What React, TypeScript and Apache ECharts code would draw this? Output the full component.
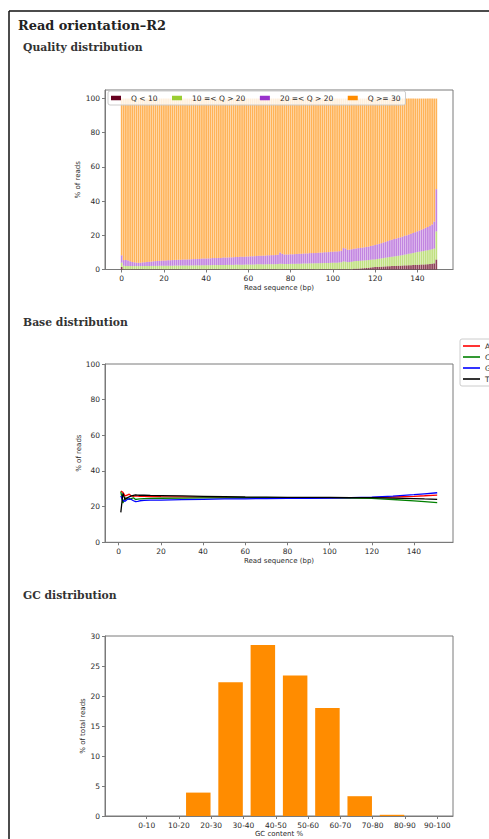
import React, { useEffect, useRef } from "react";
import * as echarts from "echarts";

// ---------- Quality distribution (stacked % per read position) ----------
const qualityNames = ["Q < 10", "10 =< Q > 20", "20 =< Q > 20", "Q >= 30"];
const readPos = Array.from({ length: 150 }, (_, i) => i);
const qLow = [
  1.5, 0.2, 0.2, 0.2, 0.2, 0.2, 0.2, 0.2, 0.2, 0.2,
  0.2, 0.2, 0.2, 0.2, 0.2, 0.2, 0.2, 0.2, 0.2, 0.2,
  0.2, 0.2, 0.2, 0.2, 0.2, 0.2, 0.2, 0.2, 0.2, 0.2,
  0.2, 0.2, 0.2, 0.2, 0.2, 0.2, 0.2, 0.2, 0.2, 0.2,
  0.2, 0.2, 0.2, 0.2, 0.2, 0.2, 0.2, 0.2, 0.2, 0.2,
  0.2, 0.2, 0.2, 0.2, 0.2, 0.2, 0.2, 0.2, 0.2, 0.2,
  0.2, 0.2, 0.2, 0.2, 0.2, 0.2, 0.2, 0.2, 0.2, 0.2,
  0.2, 0.2, 0.2, 0.2, 0.2, 0.2, 0.2, 0.2, 0.2, 0.2,
  0.2, 0.2, 0.2, 0.2, 0.2, 0.2, 0.2, 0.2, 0.2, 0.2,
  0.2, 0.2, 0.2, 0.2, 0.2, 0.2, 0.2, 0.2, 0.2, 0.2,
  0.2, 0.2, 0.2, 0.2, 0.2, 0.2, 0.2, 0.2, 0.2, 0.2,
  0.4, 0.5, 0.5, 0.6, 0.7, 0.8, 0.9, 1.0, 1.1, 1.3,
  1.4, 1.5, 1.5, 1.6, 1.7, 1.8, 1.9, 1.9, 2.0, 2.1,
  2.1, 2.2, 2.2, 2.3, 2.4, 2.4, 2.5, 2.5, 2.6, 2.7,
  2.7, 2.8, 2.9, 2.9, 3.0, 3.1, 3.2, 3.4, 3.6, 5.8,
];
const qMid = [
  2.5, 2.0, 1.9, 1.8, 1.8, 1.8, 1.8, 1.8, 1.8, 1.8,
  1.8, 1.8, 1.9, 1.9, 1.9, 1.9, 1.9, 1.9, 2.0, 2.0,
  2.0, 2.0, 2.0, 2.0, 2.0, 2.1, 2.1, 2.1, 2.1, 2.1,
  2.1, 2.2, 2.1, 2.2, 2.2, 2.2, 2.2, 2.2, 2.3, 2.3,
  2.3, 2.3, 2.3, 2.4, 2.4, 2.4, 2.4, 2.4, 2.5, 2.5,
  2.5, 2.5, 2.5, 2.5, 2.6, 2.6, 2.6, 2.6, 2.6, 2.7,
  2.7, 2.7, 2.7, 2.7, 2.8, 2.8, 2.8, 2.8, 2.8, 2.9,
  2.9, 2.9, 2.9, 2.9, 3.0, 3.2, 3.1, 3.0, 3.0, 3.0,
  3.1, 3.1, 3.1, 3.2, 3.2, 3.2, 3.3, 3.3, 3.3, 3.4,
  3.4, 3.4, 3.4, 3.5, 3.5, 3.5, 3.6, 3.6, 3.6, 3.7,
  3.7, 3.7, 3.8, 3.9, 4.0, 4.5, 4.4, 4.1, 4.2, 4.3,
  4.4, 4.4, 4.5, 4.5, 4.5, 4.5, 4.5, 4.5, 4.6, 4.5,
  4.5, 4.6, 4.8, 4.9, 5.0, 5.1, 5.2, 5.4, 5.4, 5.5,
  5.7, 5.8, 6.0, 6.1, 6.3, 6.5, 6.7, 6.9, 7.1, 7.2,
  7.5, 7.6, 7.7, 7.9, 8.1, 8.2, 8.4, 8.4, 8.6, 16.5,
];
const qGood = [
  4.3, 3.3, 3.4, 3.3, 2.8, 2.4, 2.2, 2.0, 1.9, 2.0,
  2.2, 2.3, 2.3, 2.4, 2.5, 2.7, 2.8, 2.9, 2.9, 3.0,
  3.1, 3.1, 3.2, 3.2, 3.3, 3.3, 3.3, 3.4, 3.4, 3.5,
  3.5, 3.5, 3.6, 3.6, 3.7, 3.7, 3.8, 3.8, 3.9, 3.9,
  3.9, 4.0, 4.0, 4.1, 4.1, 4.1, 4.2, 4.2, 4.3, 4.3,
  4.3, 4.4, 4.4, 4.5, 4.5, 4.5, 4.6, 4.6, 4.6, 4.7,
  4.7, 4.8, 4.8, 4.9, 4.9, 5.0, 5.0, 5.1, 5.1, 5.2,
  5.2, 5.3, 5.3, 5.4, 5.5, 6.6, 5.9, 5.6, 5.6, 5.6,
  5.6, 5.6, 5.7, 5.7, 5.8, 5.8, 5.8, 5.9, 5.9, 6.0,
  6.0, 6.0, 6.1, 6.1, 6.2, 6.2, 6.3, 6.3, 6.4, 6.5,
  6.5, 6.6, 6.6, 6.6, 6.8, 7.8, 7.7, 7.2, 7.2, 7.3,
  7.3, 7.4, 7.5, 7.5, 7.6, 7.7, 7.8, 7.9, 8.0, 8.3,
  8.4, 8.6, 8.7, 8.9, 9.1, 9.3, 9.5, 9.8, 10.0, 10.2,
  10.3, 10.5, 10.6, 10.8, 11.0, 11.1, 11.3, 11.5, 11.7, 11.9,
  12.1, 12.4, 12.7, 13.0, 13.3, 13.6, 14.0, 14.5, 15.8, 24.7,
];
const qBest = [
  91.7, 94.5, 94.5, 94.7, 95.2, 95.6, 95.8, 96.0, 96.1, 96.0,
  95.8, 95.7, 95.6, 95.5, 95.4, 95.2, 95.1, 95.0, 94.9, 94.8,
  94.7, 94.7, 94.6, 94.6, 94.5, 94.4, 94.4, 94.3, 94.3, 94.2,
  94.2, 94.1, 94.1, 94.0, 93.9, 93.9, 93.8, 93.8, 93.6, 93.6,
  93.6, 93.5, 93.5, 93.3, 93.3, 93.3, 93.2, 93.2, 93.0, 93.0,
  93.0, 92.9, 92.9, 92.8, 92.7, 92.7, 92.6, 92.6, 92.6, 92.4,
  92.4, 92.3, 92.3, 92.2, 92.1, 92.0, 92.0, 91.9, 91.9, 91.7,
  91.7, 91.6, 91.6, 91.5, 91.3, 90.0, 90.8, 91.2, 91.2, 91.2,
  91.1, 91.1, 91.0, 90.9, 90.8, 90.8, 90.7, 90.6, 90.6, 90.4,
  90.4, 90.4, 90.3, 90.2, 90.1, 90.1, 89.9, 89.9, 89.8, 89.6,
  89.6, 89.5, 89.4, 89.3, 89.0, 87.5, 87.7, 88.5, 88.4, 88.2,
  87.9, 87.7, 87.5, 87.4, 87.2, 87.0, 86.8, 86.6, 86.3, 85.9,
  85.7, 85.3, 85.0, 84.6, 84.2, 83.8, 83.4, 82.9, 82.6, 82.2,
  81.9, 81.5, 81.2, 80.8, 80.3, 80.0, 79.5, 79.1, 78.6, 78.2,
  77.7, 77.2, 76.7, 76.2, 75.6, 75.1, 74.4, 73.7, 72.0, 53.0,
];
const qualityTicks = [0, 20, 40, 60, 80, 100, 120, 140];
const percentTicks = [0, 20, 40, 60, 80, 100];

// ---------- Base distribution ----------
const baseNames = ["A", "C", "G", "T"];
const basePos = [1, 2, 3, 4, 5, 6, 7, 8, 9, 10, 12, 15, 20, 30, 40, 50, 60, 70, 80, 90, 100, 110, 120, 130, 140, 145, 151];
const baseA = [28.8, 28.0, 26.0, 26.5, 27.0, 26.0, 25.8, 26.0, 25.9, 25.8, 25.8, 25.7, 25.6, 25.5, 25.3, 25.2, 25.1, 25.0, 25.0, 25.0, 25.0, 25.0, 25.1, 25.4, 25.8, 26.1, 26.5];
const baseC = [28.4, 22.0, 25.0, 24.5, 24.0, 24.5, 25.0, 24.0, 24.2, 24.4, 24.5, 24.6, 24.7, 24.8, 24.9, 24.9, 25.0, 25.0, 25.0, 25.0, 24.9, 24.8, 24.6, 24.0, 23.2, 22.8, 22.2];
const baseG = [26.0, 23.5, 23.0, 24.0, 24.5, 24.0, 23.3, 22.8, 23.0, 23.3, 23.5, 23.6, 23.7, 23.9, 24.1, 24.3, 24.4, 24.5, 24.6, 24.7, 24.8, 25.0, 25.3, 25.9, 26.7, 27.2, 27.8];
const baseT = [16.8, 27.5, 24.0, 25.0, 25.5, 26.0, 26.3, 26.6, 26.5, 26.4, 26.4, 26.3, 26.2, 26.0, 25.8, 25.6, 25.4, 25.3, 25.2, 25.2, 25.2, 25.1, 25.0, 24.8, 24.5, 24.3, 24.1];

// ---------- GC distribution ----------
const gcCats = ["0-10", "10-20", "20-30", "30-40", "40-50", "50-60", "60-70", "70-80", "80-90", "90-100"];
const gcValues = [0, 0, 3.9, 22.3, 28.5, 23.4, 18.0, 3.3, 0.2, 0];
const gcTicks = [0, 1, 2, 3, 4, 5, 6, 7, 8, 9];

const FONT = "DejaVu Sans";
const TXT = "#2a2a2a";
const SPINE = "#7a7a7a";
const SERIF = "DejaVu Serif";

function gridBox(top: number, height: number) {
  return {
    left: 105,
    top,
    width: 348,
    height,
    show: true,
    borderColor: SPINE,
    borderWidth: 1,
    backgroundColor: "transparent",
    containLabel: false,
    outerBoundsMode: "none",
  };
}

function xAx(gridIndex: number, min: number, max: number, ticks: number[], name: string, labelMargin: number, nameGap: number, fmt?: (v: number) => string) {
  return {
    type: "value",
    gridIndex,
    min,
    max,
    axisLine: { show: true, onZero: false, lineStyle: { color: SPINE, width: 1 } },
    axisTick: { show: true, length: 3, lineStyle: { color: SPINE, width: 1 }, customValues: ticks },
    axisLabel: {
      customValues: ticks,
      fontSize: 7.5,
      fontFamily: FONT,
      color: TXT,
      margin: labelMargin,
      formatter: fmt ? fmt : (v: number) => String(v),
    },
    splitLine: { show: false },
    name,
    nameLocation: "middle",
    nameGap,
    nameMoveOverlap: false,
    nameTextStyle: { fontSize: 7, fontFamily: FONT, color: TXT },
  };
}

function yAx(gridIndex: number, min: number, max: number, ticks: number[], name: string, nameGap: number) {
  return {
    type: "value",
    gridIndex,
    min,
    max,
    axisLine: { show: true, onZero: false, lineStyle: { color: SPINE, width: 1 } },
    axisTick: { show: true, length: 3, lineStyle: { color: SPINE, width: 1 }, customValues: ticks },
    axisLabel: { customValues: ticks, fontSize: 7.5, fontFamily: FONT, color: TXT, margin: 5 },
    splitLine: { show: false },
    name,
    nameLocation: "middle",
    nameGap,
    nameMoveOverlap: false,
    nameTextStyle: { fontSize: 7, fontFamily: FONT, color: TXT },
  };
}

const qColors = ["#67001f", "#9acd32", "#9932cc", "#ff8c00"];
const qBarColors = ["rgba(103,0,31,0.75)", "rgba(154,205,50,0.62)", "rgba(153,50,204,0.6)", "rgba(255,140,0,0.66)"];
const qSeriesData = [qLow, qMid, qGood, qBest];

const baseColors = ["#ff0000", "#008000", "#0000ff", "#000000"];
const baseSeriesData = [baseA, baseC, baseG, baseT];

export default function App() {
  const ref = useRef<HTMLDivElement>(null);
  useEffect(() => {
    if (!ref.current) return;
    const chart = echarts.init(ref.current, null, { renderer: "svg" });
    const option: any = {
      animation: false,
      backgroundColor: "#ffffff",
      grid: [gridBox(90, 179.5), gridBox(364, 178.3), gridBox(636, 180)],
      xAxis: [
        xAx(0, -7.89, 156.89, qualityTicks, "Read sequence (bp)", 5, 15),
        xAx(1, -6.5, 158.5, qualityTicks, "Read sequence (bp)", 5, 15),
        xAx(2, -1.29, 9.49, gcTicks, "GC content %", 5, 14, (v: number) => gcCats[Math.round(v)] ?? ""),
      ],
      yAxis: [
        yAx(0, 0, 105, percentTicks, "% of reads", 23.5),
        yAx(1, 0, 100, percentTicks, "% of reads", 23),
        yAx(2, 0, 30, [0, 5, 10, 15, 20, 25, 30], "% of total reads", 18.5),
      ],
      legend: [
        {
          data: qualityNames.map((n, i) => ({ name: n, itemStyle: { color: qColors[i], opacity: 1 } })),
          left: 108,
          top: 91,
          orient: "horizontal",
          icon: "rect",
          itemWidth: 10,
          itemHeight: 4.5,
          itemGap: 14.5,
          padding: [3, 5, 3, 3],
          backgroundColor: "rgba(255,255,255,0.8)",
          borderColor: "#cccccc",
          borderWidth: 1,
          borderRadius: 2,
          textStyle: { fontSize: 7.5, fontFamily: FONT, color: TXT, padding: [0, 0, 0, 5] },
          selectedMode: false,
        },
        {
          data: baseNames.map((n, i) => ({ name: n, itemStyle: { color: baseColors[i] } })),
          left: 460,
          top: 339,
          orient: "vertical",
          icon: "rect",
          itemWidth: 17,
          itemHeight: 1.6,
          itemGap: 3,
          padding: [3, 3, 3, 3],
          backgroundColor: "rgba(255,255,255,0.8)",
          borderColor: "#cccccc",
          borderWidth: 1,
          borderRadius: 2,
          textStyle: { fontSize: 7.5, fontFamily: FONT, color: TXT, lineHeight: 8 },
          selectedMode: false,
        },
      ],
      series: [
        ...qualityNames.map((n, si) => ({
          type: "bar",
          name: n,
          xAxisIndex: 0,
          yAxisIndex: 0,
          stack: "quality",
          barWidth: 1.7,
          dimensions: ["pct", "pos"],
          encode: { x: 1, y: 0 },
          itemStyle: { color: qBarColors[si] },
          silent: true,
          data: readPos.map((x, i) => [qSeriesData[si][i], x]),
        })),
        ...baseNames.map((n, si) => ({
          type: "line",
          name: n,
          xAxisIndex: 1,
          yAxisIndex: 1,
          showSymbol: false,
          symbol: "none",
          lineStyle: { color: baseColors[si], width: 1.3 },
          itemStyle: { color: baseColors[si] },
          silent: true,
          data: basePos.map((x, i) => [x, baseSeriesData[si][i]]),
        })),
        {
          type: "bar",
          name: "GC",
          xAxisIndex: 2,
          yAxisIndex: 2,
          barWidth: 24.5,
          itemStyle: { color: "#ff8c00" },
          silent: true,
          data: gcValues.map((v, i) => [i - 0.4, v]),
        },
      ],
      graphic: [
        { type: "line", shape: { x1: 9, y1: 11, x2: 489, y2: 11 }, style: { stroke: "#111", lineWidth: 1.5 } },
        { type: "line", shape: { x1: 9, y1: 11, x2: 9, y2: 839 }, style: { stroke: "#111", lineWidth: 1.5 } },
        {
          type: "text",
          x: 18,
          y: 25,
          style: { text: "Read orientation–R2", fontFamily: SERIF, fontWeight: "bold", fontSize: 12.9, fill: "#222", verticalAlign: "middle" },
        },
        {
          type: "text",
          x: 23,
          y: 47,
          style: { text: "Quality distribution", fontFamily: SERIF, fontWeight: "bold", fontSize: 10.8, fill: "#333", verticalAlign: "middle" },
        },
        {
          type: "text",
          x: 23,
          y: 322.5,
          style: { text: "Base distribution", fontFamily: SERIF, fontWeight: "bold", fontSize: 10.8, fill: "#333", verticalAlign: "middle" },
        },
        {
          type: "text",
          x: 23,
          y: 595.5,
          style: { text: "GC distribution", fontFamily: SERIF, fontWeight: "bold", fontSize: 10.8, fill: "#333", verticalAlign: "middle" },
        },
      ],
    };
    chart.setOption(option);
    return () => {
      chart.dispose();
    };
  }, []);
  return (
    <div
      ref={ref}
      style={{ position: "fixed", left: 0, top: 0, width: 489, height: 839, background: "#fff" }}
    />
  );
}
